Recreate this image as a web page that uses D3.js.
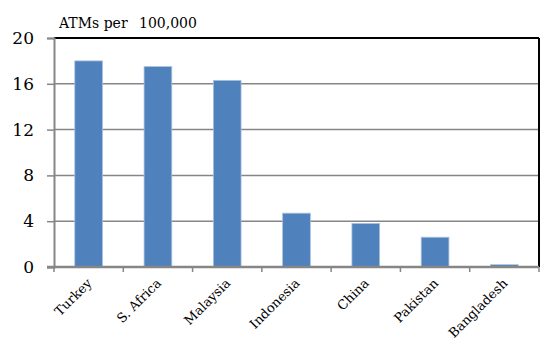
<!DOCTYPE html>
<html><head><meta charset="utf-8">
<script src="https://cdn.jsdelivr.net/npm/d3@7"></script>
<style>body{margin:0;background:#fff}svg{display:block}</style>
</head><body>
<script>
const categories = ["Turkey","S. Africa","Malaysia","Indonesia","China","Pakistan","Bangladesh"];
const values = [18.0, 17.5, 16.3, 4.7, 3.8, 2.6, 0.2];
const yTicks = [0, 4, 8, 12, 16, 20];
const titleParts = ["ATMs per", "100,000"];

const W = 555, H = 343;
const m = {left: 54, right: 16, top: 38, bottom: 76};
const svg = d3.select("body").append("svg").attr("width", W).attr("height", H);
const x = d3.scaleBand().domain(categories).range([m.left, W - m.right]).paddingInner(0.6).paddingOuter(0.3);
const y = d3.scaleLinear().domain([0, 20]).range([H - m.bottom, m.top]);
const font = "'DejaVu Serif', 'Liberation Serif', serif";

// gridlines
svg.append("g").selectAll("line").data(yTicks.filter(d => d > 0 && d < 20)).join("line")
  .attr("x1", m.left).attr("x2", W - m.right)
  .attr("y1", d => y(d)).attr("y2", d => y(d))
  .attr("stroke", "#868686").attr("stroke-width", 1.5);

// top and right border
svg.append("line").attr("x1", m.left).attr("x2", W - m.right).attr("y1", y(20)).attr("y2", y(20))
  .attr("stroke", "#000").attr("stroke-width", 2);
svg.append("line").attr("x1", W - m.right).attr("x2", W - m.right).attr("y1", y(20)).attr("y2", y(0))
  .attr("stroke", "#000").attr("stroke-width", 2);

// bars
svg.append("g").selectAll("rect").data(values).join("rect")
  .attr("x", (d, i) => x(categories[i]))
  .attr("width", x.bandwidth())
  .attr("y", d => y(d))
  .attr("height", d => y(0) - y(d))
  .attr("fill", "#4F81BD")
  .attr("stroke", "#A9C1DF").attr("stroke-width", 0.8);

// y axis
const yAxis = svg.append("g").attr("transform", `translate(${m.left},0)`)
  .call(d3.axisLeft(y).tickValues(yTicks).tickSize(7).tickPadding(13).tickFormat(d3.format("d")));
yAxis.select(".domain").attr("stroke", "#868686").attr("stroke-width", 2);
yAxis.selectAll(".tick line").attr("stroke", "#868686").attr("stroke-width", 1.5);
yAxis.selectAll("text").attr("font-family", font).attr("font-size", 17).attr("fill", "#000");

// x axis
const step = x.step();
const bounds = d3.range(categories.length + 1).map(i => m.left + i * step);
svg.append("line").attr("x1", m.left - 7).attr("x2", W - m.right).attr("y1", y(0)).attr("y2", y(0))
  .attr("stroke", "#868686").attr("stroke-width", 2.5);
svg.append("g").selectAll("line").data(bounds).join("line")
  .attr("x1", d => d).attr("x2", d => d).attr("y1", y(0)).attr("y2", y(0) + 5)
  .attr("stroke", "#868686").attr("stroke-width", 1.5);

svg.append("g").selectAll("text").data(categories).join("text")
  .attr("transform", d => `translate(${x(d) + x.bandwidth() / 2 + 4},${y(0) + 17}) rotate(-45)`)
  .attr("text-anchor", "end")
  .attr("font-family", font).attr("font-size", 13).attr("fill", "#000")
  .text(d => d);

// title
const t = svg.append("text").attr("y", 28).attr("font-family", font).attr("font-size", 14).attr("fill", "#000");
t.append("tspan").attr("x", 59).text(titleParts[0]);
t.append("tspan").attr("x", 139).text(titleParts[1]);
</script>
</body></html>
